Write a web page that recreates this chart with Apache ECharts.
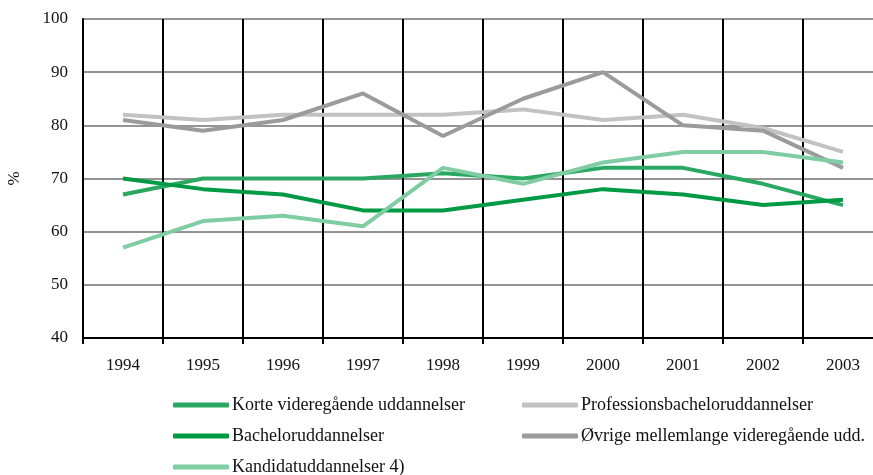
<!DOCTYPE html>
<html>
<head>
<meta charset="utf-8">
<script src="https://cdn.jsdelivr.net/npm/echarts@6/dist/echarts.min.js"></script>
<style>
html, body { margin: 0; padding: 0; background: #fff; }
#chart { width: 873px; height: 475px; }
</style>
</head>
<body>
<div id="chart"></div>
<script>
// data
var years = ['1994', '1995', '1996', '1997', '1998', '1999', '2000', '2001', '2002', '2003'];
var korte = [67, 70, 70, 70, 71, 70, 72, 72, 69, 65];
var profBachelor = [82, 81, 82, 82, 82, 83, 81, 82, 79.5, 75];
var bachelor = [70, 68, 67, 64, 64, 66, 68, 67, 65, 66];
var oevrige = [81, 79, 81, 86, 78, 85, 90, 80, 79, 72];
var kandidat = [57, 62, 63, 61, 72, 69, 73, 75, 75, 73];
var yTicks = [40, 50, 60, 70, 80, 90, 100];

var serif = '"Liberation Serif", "DejaVu Serif", serif';

function lineSeries(name, data, color) {
  return {
    name: name,
    type: 'line',
    data: data,
    symbol: 'none',
    smooth: false,
    color: color,
    lineStyle: { color: color, width: 4 },
    emphasis: { disabled: true }
  };
}

var legendBase = {
  orient: 'vertical',
  top: 395,
  height: 90,
  padding: 0,
  itemWidth: 56,
  itemHeight: 5,
  itemGap: 11,
  icon: 'roundRect',
  textStyle: { fontFamily: serif, fontSize: 18, color: '#111', lineHeight: 20, padding: [0, 0, 0, -2] }
};

var chart = echarts.init(document.getElementById('chart'));
chart.setOption({
  animation: false,
  // the last category runs past the right edge of the picture
  grid: { left: 83, width: 800, top: 19, bottom: 137, outerBoundsMode: 'none' },
  legend: [
    Object.assign({}, legendBase, {
      left: 173,
      data: ['Korte videregående uddannelser', 'Bacheloruddannelser', 'Kandidatuddannelser 4)']
    }),
    Object.assign({}, legendBase, {
      left: 522,
      data: ['Professionsbacheloruddannelser', 'Øvrige mellemlange videregående udd.']
    })
  ],
  xAxis: {
    type: 'category',
    data: years,
    boundaryGap: true,
    axisLine: { lineStyle: { color: '#000', width: 2 } },
    axisTick: { show: true, length: 6, lineStyle: { color: '#000', width: 2 } },
    axisLabel: { fontFamily: serif, fontSize: 17, color: '#111', margin: 19 },
    splitLine: { show: true, lineStyle: { color: '#000', width: 2 } }
  },
  yAxis: {
    type: 'value',
    min: yTicks[0],
    max: yTicks[yTicks.length - 1],
    interval: 10,
    name: '%',
    nameLocation: 'middle',
    nameRotate: 90,
    nameGap: 60,
    nameTextStyle: { fontFamily: serif, fontSize: 17, color: '#111' },
    axisLine: { show: true, lineStyle: { color: '#000', width: 2 } },
    axisTick: { show: false },
    axisLabel: { fontFamily: serif, fontSize: 17, color: '#111', margin: 15 },
    splitLine: { show: true, lineStyle: { color: '#707070', width: 1.5 } }
  },
  series: [
    lineSeries('Korte videregående uddannelser', korte, '#2aa862'),
    lineSeries('Professionsbacheloruddannelser', profBachelor, '#c2c2c2'),
    lineSeries('Bacheloruddannelser', bachelor, '#009a44'),
    lineSeries('Øvrige mellemlange videregående udd.', oevrige, '#9b9b9b'),
    lineSeries('Kandidatuddannelser 4)', kandidat, '#80cda3')
  ]
});
</script>
</body>
</html>
